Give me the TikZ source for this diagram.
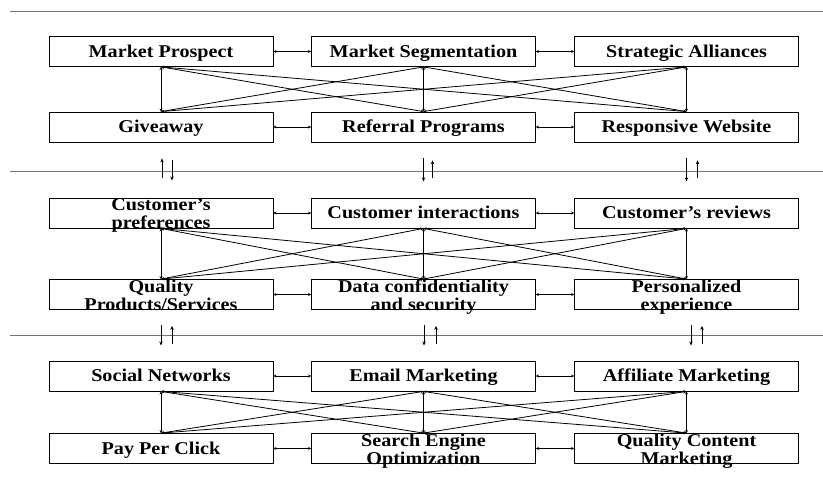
\documentclass[tikz,border=0pt]{standalone}
\usepackage{fontspec}
\setmainfont[FakeStretch=1.12]{Liberation Serif}
\usetikzlibrary{arrows.meta}
\newcommand{\twolines}[2]{\raisebox{-2pt}{\smash{\begin{tabular}{@{}c@{}}#1\\#2\end{tabular}}}}
\renewcommand{\arraystretch}{0.95}

\begin{document}
\begin{tikzpicture}[x=1pt,y=-1pt,
    box/.style={draw,line width=0.8pt,minimum width=224pt,minimum height=30pt,inner sep=0pt,
                text height=15pt,text depth=4pt,font=\fontsize{18}{18}\selectfont\bfseries},
    link/.style={{Stealth[length=3pt,width=3pt]}-{Stealth[length=3pt,width=3pt]},line width=0.8pt},
    flow/.style={-{Stealth[length=4pt,width=3.5pt]},thick},
    sep/.style={black!55,line width=1pt}
]
\useasboundingbox (0,0) rectangle (823,477);

% separators
\draw[sep] (10,11) -- (823,11);
\draw[sep] (10,171) -- (823,171);
\draw[sep] (10,335) -- (823,335);

% marketing strategy
\node[box] (prospect) at (161,51.5) {Market Prospect};
\node[box] (segment) at (423.5,51.5) {Market Segmentation};
\node[box] (alliance) at (686.5,51.5) {Strategic Alliances};
\node[box] (giveaway) at (161,127) {Giveaway};
\node[box] (referral) at (423.5,127) {Referral Programs};
\node[box] (website) at (686.5,127) {Responsive Website};

% customer
\node[box] (prefs) at (161,213) {\twolines{Customer's}{preferences}};
\node[box] (interact) at (423.5,213) {Customer interactions};
\node[box] (reviews) at (686.5,213) {Customer's reviews};
\node[box] (quality) at (161,294.5) {\twolines{Quality}{Products/Services}};
\node[box] (privacy) at (423.5,294.5) {\twolines{Data confidentiality}{and security}};
\node[box] (personal) at (686.5,294.5) {\twolines{Personalized}{experience}};

% channels
\node[box] (social) at (161,376) {Social Networks};
\node[box] (email) at (423.5,376) {Email Marketing};
\node[box] (affiliate) at (686.5,376) {Affiliate Marketing};
\node[box] (ppc) at (161,448.5) {Pay Per Click};
\node[box] (seo) at (423.5,448.5) {\twolines{Search Engine}{Optimization}};
\node[box] (content) at (686.5,448.5) {\twolines{Quality Content}{Marketing}};

% links inside each block
\foreach \t in {prospect,segment,alliance}
  \foreach \b in {giveaway,referral,website}
    \draw[link] (\t.south) -- (\b.north);
\foreach \t in {prefs,interact,reviews}
  \foreach \b in {quality,privacy,personal}
    \draw[link] (\t.south) -- (\b.north);
\foreach \t in {social,email,affiliate}
  \foreach \b in {ppc,seo,content}
    \draw[link] (\t.south) -- (\b.north);

\foreach \a/\b in {prospect/segment,segment/alliance,giveaway/referral,referral/website,
                   prefs/interact,interact/reviews,quality/privacy,privacy/personal,
                   social/email,email/affiliate,ppc/seo,seo/content}
  \draw[link] (\a) -- (\b);

% between blocks
\draw[flow] ([xshift=1pt]giveaway.south) ++(0,36) -- ++(0,-20);
\draw[flow] ([xshift=11pt]giveaway.south) ++(0,18) -- ++(0,20);
\draw[flow] ([xshift=0pt]referral.south) ++(0,16) -- ++(0,23);
\draw[flow] ([xshift=9pt]referral.south) ++(0,36) -- ++(0,-18);
\draw[flow] ([xshift=0pt]website.south) ++(0,16) -- ++(0,23);
\draw[flow] ([xshift=11pt]website.south) ++(0,36) -- ++(0,-18);

\draw[flow] ([xshift=0pt]quality.south) ++(0,15.5) -- ++(0,20);
\draw[flow] ([xshift=11pt]quality.south) ++(0,34) -- ++(0,-18);
\draw[flow] ([xshift=0.5pt]privacy.south) ++(0,15.5) -- ++(0,20);
\draw[flow] ([xshift=12.5pt]privacy.south) ++(0,34) -- ++(0,-18);
\draw[flow] ([xshift=4.5pt]personal.south) ++(0,15.5) -- ++(0,20);
\draw[flow] ([xshift=15.5pt]personal.south) ++(0,34) -- ++(0,-18);
\end{tikzpicture}
\end{document}
